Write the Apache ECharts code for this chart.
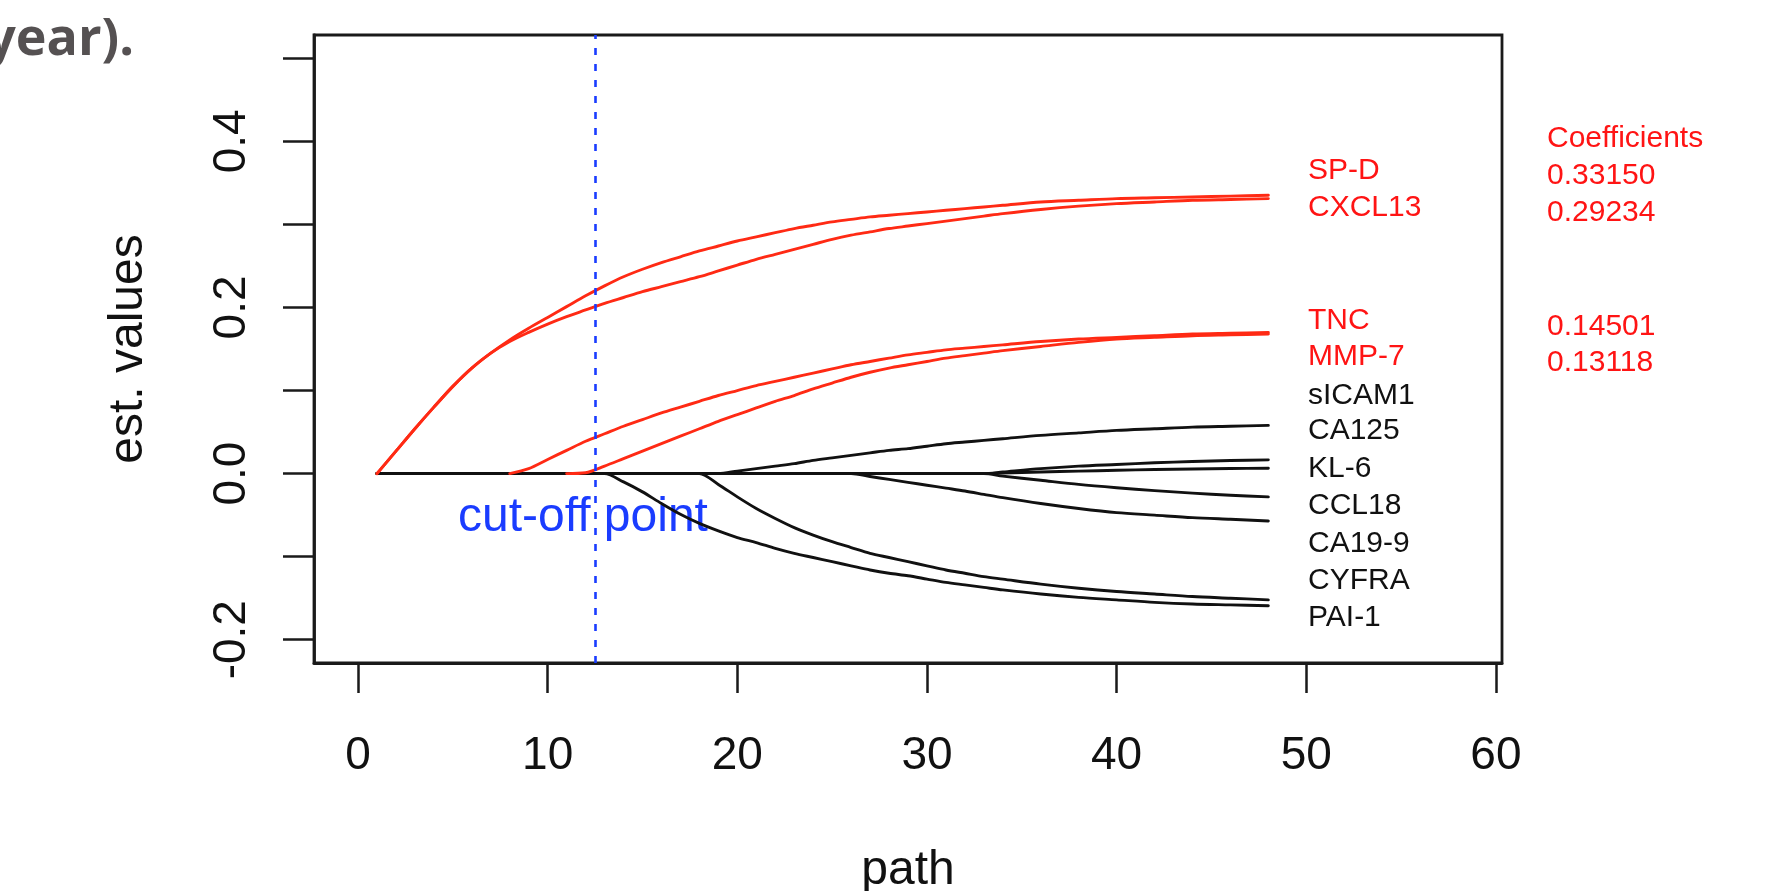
<!DOCTYPE html>
<html>
<head>
<meta charset="utf-8">
<script src="https://cdn.jsdelivr.net/npm/echarts@6/dist/echarts.min.js"></script>
<style>
html,body{margin:0;padding:0;background:#fff;}
#chart{width:1766px;height:891px;}
</style>
</head>
<body>
<div id="chart"></div>
<script>
// ---- data ----
const pathIdx = [1,2,3,4,5,6,7,8,9,10,11,12,13,14,15,16,17,18,19,20,21,22,23,24,25,26,27,28,29,30,31,32,33,34,36,38,40,42,44,46,48];

const spD    = [0,0.027,0.054,0.080,0.105,0.127,0.145,0.161,0.175,0.188, 0.201,0.214,0.226,0.237,0.246,0.254,0.261,0.268,0.274,0.280, 0.285,0.290,0.295,0.299,0.303,0.306,0.309,0.311,0.313,0.315, 0.317,0.319,0.321,0.323, 0.327,0.329,0.331,0.332,0.333,0.334,0.335];
const cxcl13 = [0,0.027,0.054,0.080,0.105,0.127,0.145,0.159,0.170,0.180, 0.189,0.197,0.205,0.212,0.219,0.225,0.231,0.237,0.244,0.251, 0.258,0.264,0.270,0.276,0.282,0.287,0.291,0.295,0.298,0.301, 0.304,0.307,0.310,0.313, 0.318,0.322,0.325,0.327,0.329,0.330,0.331];
const tnc    = [null,null,null,null,null,null,null,0,0.006,0.017, 0.028,0.039,0.048,0.057,0.065,0.073,0.080,0.087,0.094,0.100, 0.106,0.111,0.116,0.121,0.126,0.131,0.135,0.139,0.143,0.146, 0.149,0.151,0.153,0.155, 0.159,0.162,0.164,0.166,0.168,0.169,0.170];
const mmp7   = [null,null,null,null,null,null,null,null,null,null, 0,0.001,0.009,0.018,0.027,0.036,0.045,0.054,0.063,0.071, 0.079,0.087,0.094,0.102,0.109,0.116,0.122,0.127,0.131,0.135, 0.139,0.142,0.145,0.148, 0.153,0.158,0.162,0.164,0.166,0.167,0.168];
const sicam1 = [0,0,0,0,0,0,0,0,0,0, 0,0,0,0,0,0,0,0,0,0.003, 0.006,0.009,0.012,0.016,0.019,0.022,0.025,0.028,0.030,0.033, 0.036,0.038,0.040,0.042, 0.046,0.049,0.052,0.054,0.056,0.057,0.058];
const ca125  = [0,0,0,0,0,0,0,0,0,0, 0,0,0,0,0,0,0,0,0,0, 0,0,0,0,0,0,0,0,0,0, 0,0,0,0.002, 0.006,0.009,0.011,0.013,0.0145,0.0157,0.0165];
const kl6    = [0,0,0,0,0,0,0,0,0,0, 0,0,0,0,0,0,0,0,0,0, 0,0,0,0,0,0,0,0,0,0, 0,0,0,0.0007, 0.002,0.003,0.004,0.005,0.0056,0.0061,0.0065];
const ccl18  = [0,0,0,0,0,0,0,0,0,0, 0,0,0,0,0,0,0,0,0,0, 0,0,0,0,0,0,0,0,0,0, 0,0,0,-0.003, -0.008,-0.013,-0.017,-0.0205,-0.0235,-0.026,-0.028];
const ca199  = [0,0,0,0,0,0,0,0,0,0, 0,0,0,0,0,0,0,0,0,0, 0,0,0,0,0,0,-0.0035,-0.007,-0.0105,-0.014, -0.0175,-0.021,-0.025,-0.029, -0.036,-0.042,-0.047,-0.050,-0.053,-0.055,-0.057];
const cyfra  = [0,0,0,0,0,0,0,0,0,0, 0,0,0,0,0,0,0,0,-0.013,-0.028, -0.042,-0.054,-0.065,-0.074,-0.082,-0.089,-0.096,-0.101,-0.106,-0.111, -0.116,-0.120,-0.124,-0.127, -0.133,-0.138,-0.142,-0.145,-0.148,-0.150,-0.152];
const pai1   = [0,0,0,0,0,0,0,0,0,0, 0,0,0,-0.010,-0.022,-0.036,-0.049,-0.060,-0.069,-0.077, -0.083,-0.090,-0.096,-0.101,-0.106,-0.111,-0.116,-0.120,-0.123,-0.127, -0.131,-0.134,-0.137,-0.140, -0.145,-0.149,-0.152,-0.155,-0.157,-0.158,-0.159];

const cutoffPath = 12.52;
const xTicks = [0,10,20,30,40,50,60];
const yTicks = [-0.2,-0.1,0,0.1,0.2,0.3,0.4,0.5];
const yTickLabels = [-0.2,0,0.2,0.4];

const selectedGenes = ['SP-D','CXCL13','TNC','MMP-7'];
const otherGenes = ['sICAM1','CA125','KL-6','CCL18','CA19-9','CYFRA','PAI-1'];
const coefHeader = 'Coefficients';
const coefValues = ['0.33150','0.29234','0.14501','0.13118'];

// ---- chart ----
const FONT = '"Liberation Sans", Arial, Helvetica, sans-serif';
const RED = '#ff2a14';
const BLACK = '#111111';
const BLUE = '#1a3cff';

function pairs(vals){ return pathIdx.map((x,i)=>[x, vals[i]]); }

const blackSeries = [
  [otherGenes[0], sicam1],[otherGenes[1], ca125],[otherGenes[2], kl6],
  [otherGenes[3], ccl18],[otherGenes[4], ca199],[otherGenes[5], cyfra],[otherGenes[6], pai1]
].map(([name, vals]) => ({
  name, type:'line', data: pairs(vals), showSymbol:false, symbol:'none',
  smooth:0.3,
  lineStyle:{color:BLACK, width:2.9, join:'round', cap:'round'}, silent:true, z:2
}));
const redSeries = [
  [selectedGenes[0], spD],[selectedGenes[1], cxcl13],[selectedGenes[2], tnc],[selectedGenes[3], mmp7]
].map(([name, vals]) => ({
  name, type:'line', data: pairs(vals), showSymbol:false, symbol:'none',
  smooth:0.3, connectNulls:false,
  lineStyle:{color:RED, width:2.9, join:'round', cap:'round'}, silent:true, z:3
}));
redSeries[redSeries.length-1].markLine = {
  silent:true, symbol:['none','none'], label:{show:false},
  lineStyle:{color:BLUE, width:2.6, type:[7,9]},
  data:[{xAxis: cutoffPath}], z:5
};

// right-side label layout (pixel positions)
const geneLabelY = [170.5, 208, 321, 357, 395.5, 431, 469, 506, 544, 580.5, 618];
const coefY = [138.5, 175.5, 213, 326.5, 362.5];
const allGenes = selectedGenes.concat(otherGenes);
const graphics = [];
allGenes.forEach((g,i)=>{
  graphics.push({type:'text', x:1308, y:geneLabelY[i], silent:true,
    style:{text:g, font:'30px '+FONT, fill: i<selectedGenes.length ? '#ff1414' : BLACK, align:'left', verticalAlign:'middle'}});
});
[coefHeader].concat(coefValues).forEach((t,i)=>{
  graphics.push({type:'text', x:1547, y:coefY[i], silent:true,
    style:{text:t, font:'30px '+FONT, fill:'#ff1414', align:'left', verticalAlign:'middle'}});
});
graphics.push({type:'text', x:458, y:518, silent:true,
  style:{text:'cut-off point', font:'48px '+FONT, fill:BLUE, align:'left', verticalAlign:'middle'}});
graphics.push({type:'text', x:134, y:40, silent:true,
  style:{text:'year).', font:'bold 52px "Open Sans", Lato, sans-serif', fill:'#555152', align:'right', verticalAlign:'middle'}});

const chart = echarts.init(document.getElementById('chart'), null, {renderer:'canvas'});
chart.setOption({
  animation:false,
  backgroundColor:'#ffffff',
  grid:{left:314, right:264, top:35, bottom:228, containLabel:false, outerBoundsMode:'none',
        show:true, borderColor:'#1a1a1a', borderWidth:2.8, backgroundColor:'transparent'},
  xAxis:{
    type:'value', min:-2.32, max:60.32,
    name:'path', nameLocation:'middle', nameGap:184,
    nameTextStyle:{fontFamily:FONT, fontSize:48, color:BLACK},
    axisLine:{show:true, onZero:false, lineStyle:{color:'#1a1a1a', width:2.8}},
    axisTick:{show:true, inside:false, length:30, customValues:xTicks, lineStyle:{color:'#1a1a1a', width:2.5}},
    axisLabel:{show:true, customValues:xTicks, margin:70, fontFamily:FONT, fontSize:46, color:BLACK,
      formatter:(v)=>String(Math.round(v))},
    splitLine:{show:false}
  },
  yAxis:{
    type:'value', min:-0.228, max:0.528,
    name:'est. values', nameLocation:'middle', nameGap:161, nameRotate:90,
    nameTextStyle:{fontFamily:FONT, fontSize:48, color:BLACK},
    axisLine:{show:true, onZero:false, lineStyle:{color:'#1a1a1a', width:2.8}},
    axisTick:{show:true, inside:false, length:31, customValues:yTicks, lineStyle:{color:'#1a1a1a', width:2.5}},
    axisLabel:{show:true, customValues:yTickLabels, rotate:90, margin:59, fontFamily:FONT, fontSize:46, color:BLACK,
      formatter:(v)=>v.toFixed(1)},
    splitLine:{show:false}
  },
  series: blackSeries.concat(redSeries),
  graphic: graphics
});
</script>
</body>
</html>
